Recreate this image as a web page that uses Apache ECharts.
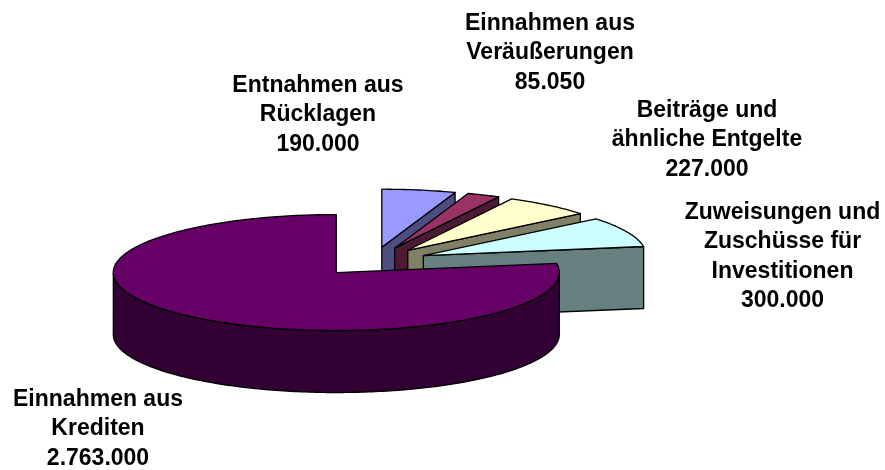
<!DOCTYPE html>
<html>
<head>
<meta charset="utf-8">
<title>Einnahmen</title>
<script src="https://cdn.jsdelivr.net/npm/echarts@6/dist/echarts.min.js"></script>
<style>
  html, body { margin: 0; padding: 0; background: #fff; }
  #chart { width: 885px; height: 470px; }
</style>
</head>
<body>
<div id="chart"></div>
<script>
// slices in drawing order, clockwise from 12 o'clock
const sliceNames = [
  "Entnahmen aus\nRücklagen",
  "Einnahmen aus\nVeräußerungen",
  "Beiträge und\nähnliche Entgelte",
  "Zuweisungen und\nZuschüsse für\nInvestitionen",
  "Einnahmen aus\nKrediten"
];
const sliceValues = [190000, 85050, 227000, 300000, 2763000];
const topColors = ["#9999ff", "#993366", "#ffffcc", "#ccffff", "#660066"];
const sideColors = ["#4d4d80", "#4d1a33", "#808066", "#668080", "#330033"];

// pie geometry in pixels
const pie = { cx: 372.5, cy: 261.5, rx: 223, ry: 58, depth: 62, explode: 0.25 };
const labelCenters = [[318, 70.5], [550, 8.5], [707, 95.5], [782.5, 197.5], [98, 384.5]];

const total = sliceValues.reduce((a, b) => a + b, 0);

function formatValue(v) {
  return String(v).replace(/\B(?=(\d{3})+$)/g, ".");
}

function renderSlice(params, api) {
  const i = params.dataIndex;
  const before = sliceValues.slice(0, i).reduce((a, b) => a + b, 0);
  const start = before / total * Math.PI * 2;
  const end = (before + api.value(0)) / total * Math.PI * 2;
  const mid = (start + end) / 2;
  const ox = pie.cx + pie.explode * pie.rx * Math.sin(mid);
  const oy = pie.cy - pie.explode * pie.ry * Math.cos(mid);
  const at = (a) => [ox + pie.rx * Math.sin(a), oy - pie.ry * Math.cos(a)];
  const down = (p) => [p[0], p[1] + pie.depth];

  const arc = [];
  const steps = Math.max(8, Math.round((end - start) * 60));
  for (let s = 0; s <= steps; s++) arc.push(at(start + (end - start) * s / steps));

  const edge = { stroke: "#000", lineWidth: 1.3, lineJoin: "round" };
  const poly = (points, fill) => ({
    type: "polygon",
    shape: { points: points },
    style: Object.assign({ fill: fill }, edge)
  });

  const children = [];
  const apex = [ox, oy];
  // radial cut at the clockwise end of the slice, only seen when it faces the viewer
  if (end < Math.PI) {
    const tip = at(end);
    children.push(poly([apex, tip, down(tip), down(apex)], sideColors[i]));
  }
  // rim on the front half of the ellipse
  const rim = arc.filter((p, k) => {
    const a = start + (end - start) * k / steps;
    return a >= Math.PI / 2 && a <= Math.PI * 1.5;
  });
  if (rim.length > 1) {
    const rimPts = rim.concat(rim.slice().reverse().map(down));
    children.push(poly(rimPts, sideColors[i]));
  }
  children.push(poly([apex].concat(arc), topColors[i]));

  children.push({
    type: "text",
    style: {
      text: sliceNames[i] + "\n" + formatValue(api.value(0)),
      x: labelCenters[i][0],
      y: labelCenters[i][1],
      textAlign: "center",
      textVerticalAlign: "top",
      fontFamily: "Liberation Sans",
      fontWeight: "bold",
      fontSize: 23,
      lineHeight: 29.5,
      fill: "#000"
    }
  });

  return { type: "group", children: children };
}

const chart = echarts.init(document.getElementById("chart"));
chart.setOption({
  animation: false,
  backgroundColor: "#fff",
  series: [
    {
      type: "custom",
      coordinateSystem: "none",
      renderItem: renderSlice,
      data: sliceValues.map((v, i) => ({ name: sliceNames[i], value: [v] }))
    }
  ]
});
</script>
</body>
</html>
